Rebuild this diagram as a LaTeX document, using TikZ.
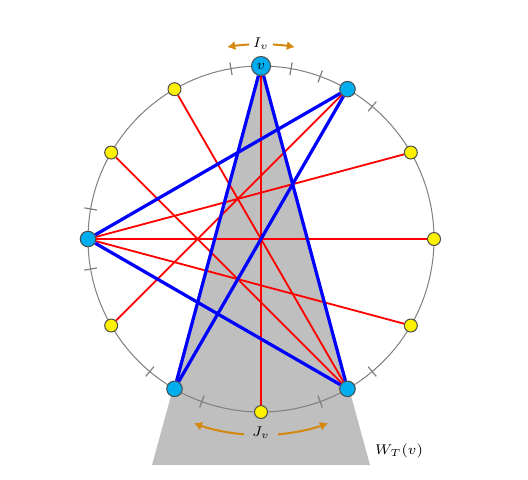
\documentclass[tikz,border=0pt]{standalone}
\usepackage{tikz}
\usetikzlibrary{calc,backgrounds,arrows.meta}
\definecolor{vtxblue}{HTML}{00AEEF}
\definecolor{arcorange}{HTML}{D4880F}
\definecolor{wedgegray}{HTML}{BFBFBF}

\begin{document}
\begin{tikzpicture}[
  font=\fontsize{7.4}{9}\selectfont,
  pt/.style={circle, draw=black!70, line width=0.5pt, inner sep=0pt},
  ypt/.style={pt, fill=yellow, minimum size=2.25mm},
  bpt/.style={pt, fill=vtxblue, minimum size=2.7mm},
  redln/.style={draw=red, line width=0.9pt},
  blueln/.style={draw=blue, line width=1.6pt},
  tk/.style={draw=gray, line width=0.6pt},
  arr/.style={-{Latex[length=1.4mm,width=1.6mm]}, draw=arcorange, line width=1pt}
]
\useasboundingbox (-4.526,-4.162) rectangle (4.63,4.145);

% points on the circle
\foreach \a in {0,30,120,150,210,270,330}
  \node[ypt] (y\a) at (\a:3) {};
\foreach \a in {60,180,240,300}
  \node[bpt] (b\a) at (\a:3) {};
\node[bpt, minimum size=3.3mm] (v) at (90:3) {$v$};

% window and circle
\begin{scope}[on background layer]
  \fill[wedgegray] (v.center) -- (-1.89,-3.92) -- (1.89,-3.92) -- cycle;
  \draw[gray, line width=0.5pt] (0,0) circle (3);
  \foreach \a in {50,70,80,100,170,190,230,250,290,310}
    \draw[tk] (\a:2.89) -- (\a:3.11);
\end{scope}

% red chords
\draw[redln] (v) -- (y270);
\draw[redln] (y120) -- (b300);
\draw[redln] (y150) -- (b300);
\draw[redln] (y210) -- (b60);
\draw[redln] (b180) -- (y30);
\draw[redln] (b180) -- (y0);
\draw[redln] (b180) -- (y330);

% blue chords
\draw[blueln] (v) -- (b240);
\draw[blueln] (v) -- (b300);
\draw[blueln] (b60) -- (b180);
\draw[blueln] (b60) -- (b240);
\draw[blueln] (b180) -- (b300);

% intervals
\node (iv) at (0,3.38) {$I_v$};
\draw[arr] (93.5:3.38) arc[start angle=93.5, end angle=100, radius=3.38];
\draw[arr] (86.5:3.38) arc[start angle=86.5, end angle=80, radius=3.38];
\node (jv) at (0,-3.36) {$J_v$};
\draw[arr] (-95:3.4) arc[start angle=-95, end angle=-110, radius=3.4];
\draw[arr] (-85:3.4) arc[start angle=-85, end angle=-70, radius=3.4];
\node (wt) at (2.393,-3.676) {$W_T(v)$};
\end{tikzpicture}
\end{document}
